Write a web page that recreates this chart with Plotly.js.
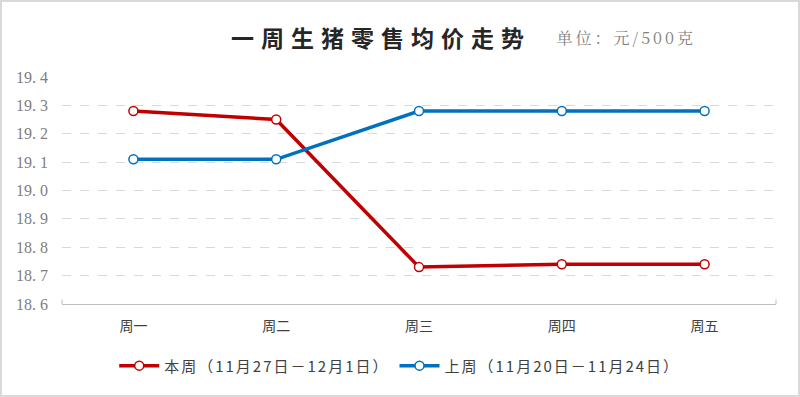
<!DOCTYPE html>
<html><head><meta charset="utf-8">
<script src="https://cdn.plot.ly/plotly-3.0.1.min.js"></script>
<style>
html,body{margin:0;padding:0;background:#fff}
#c{width:800px;height:397px;box-sizing:border-box;border:2px solid #d9d9d9}
.legendtext{letter-spacing:2px}
g.annotation[data-index="0"] text{letter-spacing:7px}
g.annotation[data-index="1"] text{letter-spacing:3px}
</style>
</head><body><div id="c"></div>
<script>
const categories = ['周一','周二','周三','周四','周五'];
const thisWeek = [19.28, 19.25, 18.73, 18.74, 18.74];
const lastWeek = [19.11, 19.11, 19.28, 19.28, 19.28];
const seriesNames = ['本周（11月27日－12月1日）','上周（11月20日－11月24日）'];
const yTicks = [18.6,18.7,18.8,18.9,19.0,19.1,19.2,19.3,19.4];
const yTickText = ['18. 6','18. 7','18. 8','18. 9','19. 0','19. 1','19. 2','19. 3','19. 4'];

const cjk = '"Noto Sans CJK SC", sans-serif';
function tr(y, name, color){
  return {x: categories, y: y, name: name, type:'scatter', mode:'lines+markers',
    line:{color:color, width:3.5},
    marker:{size:9, color:'#fff', line:{color:color, width:1.5}}};
}
const data = [tr(thisWeek, seriesNames[0], '#C00000'), tr(lastWeek, seriesNames[1], '#0070C0')];
const layout = {
  width:796, height:393,
  margin:{l:60, r:22, t:75, b:86},
  paper_bgcolor:'#fff', plot_bgcolor:'#fff',
  showlegend:true,
  legend:{orientation:'h', x:0.473, xanchor:'center', y:-0.2, yanchor:'top',
    font:{family:cjk, size:15, color:'#404040'}, itemwidth:40, tracegroupgap:0},
  xaxis:{type:'category', range:[-0.5,4.5], showgrid:false, zeroline:false,
    showline:true, linecolor:'#bfbfbf', linewidth:1, ticklabelstandoff:9,
    ticks:'', tickfont:{family:cjk, size:14, color:'#404040'}},
  yaxis:{range:[18.6,19.4], tickvals:yTicks, ticktext:yTickText,
    showgrid:true, gridcolor:'#d9d9d9', griddash:'dash', gridwidth:1,
    zeroline:false, showline:false, ticks:'', ticklabelstandoff:13,
    tickfont:{family:'"Liberation Serif", serif', size:16, color:'#808080'}},
  annotations:[
    {xref:'paper', yref:'paper', x:0.447, y:1.175, xanchor:'center', yanchor:'middle', showarrow:false,
     text:'<b>一周生猪零售均价走势</b>', font:{family:cjk, size:23, color:'#262626'}},
    {xref:'paper', yref:'paper', x:0.79, y:1.175, xanchor:'center', yanchor:'middle', showarrow:false,
     text:'单位：元/500克', font:{family:'"Noto Serif CJK SC", "Noto Sans CJK SC", serif', size:16, color:'#808080'}}
  ],
  shapes:[
    {type:'line', xref:'paper', yref:'paper', x0:0, x1:0, y0:0, y1:0.02, line:{color:'#bfbfbf', width:1}},
    {type:'line', xref:'paper', yref:'paper', x0:1, x1:1, y0:0, y1:0.02, line:{color:'#bfbfbf', width:1}}
  ]
};
Plotly.newPlot('c', data, layout, {displayModeBar:false, staticPlot:true});
</script></body></html>
